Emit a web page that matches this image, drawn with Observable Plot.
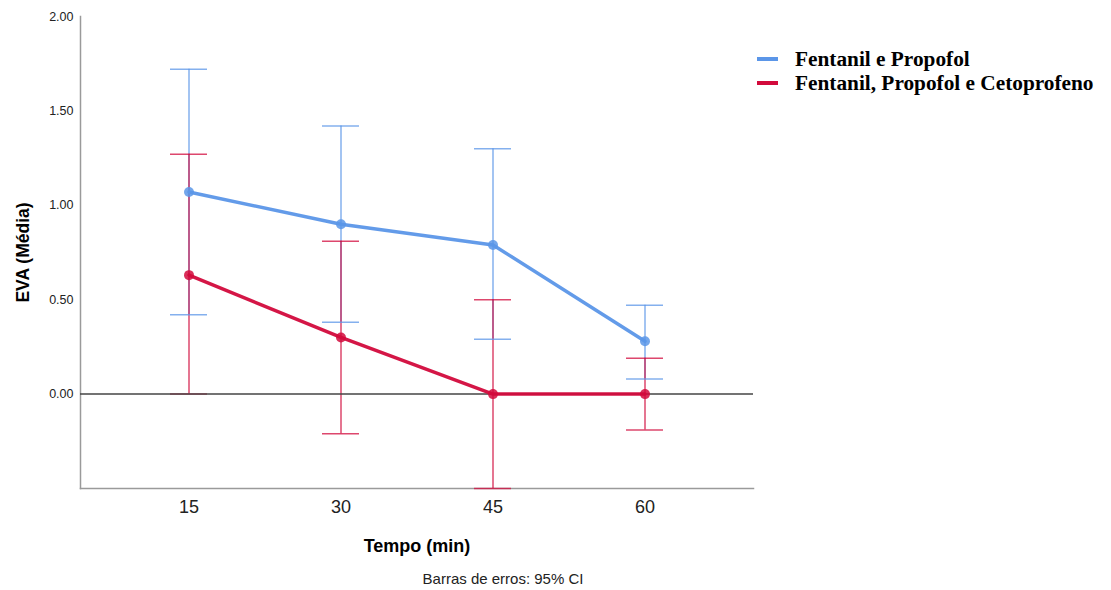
<!DOCTYPE html>
<html>
<head>
<meta charset="utf-8">
<script src="https://cdn.jsdelivr.net/npm/d3@7"></script>
<script src="https://cdn.jsdelivr.net/npm/@observablehq/plot@0.6"></script>
<style>
  body { margin: 0; background: white; }
  #wrap { position: relative; width: 1111px; height: 590px; }
  #legend { position: absolute; left: 757px; top: 47px; font-family: "Liberation Serif", "Times New Roman", serif; font-weight: bold; font-size: 21.3px; color: #000; }
  .row { display: flex; align-items: center; height: 24px; white-space: nowrap; }
  .sw { width: 21px; height: 4px; margin-right: 17px; }
  #caption { position: absolute; left: 0; width: 1006px; top: 570px; text-align: center; font-family: "Liberation Sans", Arial, sans-serif; font-size: 15px; color: #222; }
</style>
</head>
<body>
<div id="wrap">
  <div id="chart"></div>
  <div id="legend"></div>
  <div id="caption">Barras de erros: 95% CI</div>
</div>
<script>
const times = [15, 30, 45, 60];
const seriesNames = ["Fentanil e Propofol", "Fentanil, Propofol e Cetoprofeno"];
const seriesColors = ["#5b96e8", "#d20a3c"];
const fpMean = [1.07, 0.90, 0.79, 0.28];
const fpLow  = [0.42, 0.38, 0.29, 0.08];
const fpHigh = [1.72, 1.42, 1.30, 0.47];
const fpcMean = [0.63, 0.30, 0.00, 0.00];
const fpcLow  = [0.00, -0.21, -0.50, -0.19];
const fpcHigh = [1.27, 0.81, 0.50, 0.19];
const yTicks = [0, 0.5, 1, 1.5, 2];

const rows = [];
times.forEach((t, i) => rows.push({t, series: seriesNames[0], mean: fpMean[i], low: fpLow[i], high: fpHigh[i]}));
times.forEach((t, i) => rows.push({t, series: seriesNames[1], mean: fpcMean[i], low: fpcLow[i], high: fpcHigh[i]}));

const chart = Plot.plot({
  width: 1111,
  height: 566,
  marginTop: 16,
  marginLeft: 80,
  marginRight: 358,
  marginBottom: 78,
  style: {fontFamily: "'Liberation Sans', Arial, sans-serif", background: "white", color: "#222"},
  x: {type: "band", domain: times, paddingInner: 0.757, paddingOuter: 0.592},
  y: {domain: [-0.5, 2]},
  color: {domain: seriesNames, range: seriesColors},
  marks: [
    Plot.frame({anchor: "left", stroke: "#9a9a9a", strokeWidth: 1.5}),
    Plot.frame({anchor: "bottom", stroke: "#9a9a9a", strokeWidth: 1.5}),
    Plot.ruleX(rows, {x: "t", y1: "low", y2: "high", stroke: "series", strokeOpacity: 0.75, strokeWidth: 1.5}),
    Plot.tickY(rows, {x: "t", y: "low", stroke: "series", strokeOpacity: 0.75, strokeWidth: 1.5}),
    Plot.tickY(rows, {x: "t", y: "high", stroke: "series", strokeOpacity: 0.75, strokeWidth: 1.5}),
    Plot.ruleY([0], {stroke: "#444", strokeWidth: 1.5}),
    Plot.line(rows, {x: "t", y: "mean", stroke: "series", strokeWidth: 3.5, strokeOpacity: 0.95}),
    Plot.dot(rows, {x: "t", y: "mean", fill: "series", r: 5, fillOpacity: 0.85}),
    Plot.axisX({tickSize: 0, tickPadding: 12, fontSize: 18, label: null}),
    Plot.axisY({ticks: yTicks, tickFormat: ".2f", tickSize: 0, tickPadding: 7, fontSize: 12.5, label: null}),
    Plot.text(["Tempo (min)"], {frameAnchor: "bottom", lineAnchor: "middle", textAnchor: "middle", dy: 58, fontWeight: "bold", fontSize: 18, fill: "#000"}),
    Plot.text(["EVA (Média)"], {frameAnchor: "left", textAnchor: "middle", lineAnchor: "middle", dx: -57, rotate: -90, fontWeight: "bold", fontSize: 17.5, fill: "#000"})
  ]
});
document.getElementById("chart").appendChild(chart);

const legend = document.getElementById("legend");
seriesNames.forEach((name, i) => {
  const row = document.createElement("div");
  row.className = "row";
  const sw = document.createElement("span");
  sw.className = "sw";
  sw.style.background = seriesColors[i];
  const label = document.createElement("span");
  label.textContent = name;
  row.appendChild(sw);
  row.appendChild(label);
  legend.appendChild(row);
});
</script>
</body>
</html>
